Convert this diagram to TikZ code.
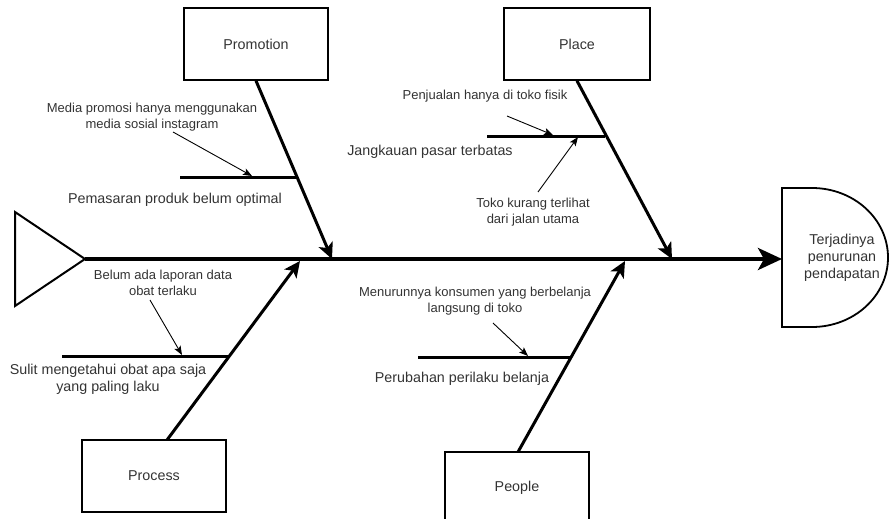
\documentclass[tikz,border=0pt]{standalone}
\usepackage{fontspec}
\setmainfont{Liberation Sans}
\usetikzlibrary{arrows.meta}
\definecolor{txt}{HTML}{333333}
\tikzset{
  catbox/.style={draw=black, line width=1.6pt, minimum width=144pt, minimum height=72pt, inner sep=0pt, font=\fontsize{14.3}{17}\selectfont, text=txt},
  lbl/.style={font=\fontsize{14.3}{17}\selectfont, text=txt, align=center, inner sep=0pt},
  note/.style={font=\fontsize{13}{15.5}\selectfont, text=txt, align=center, inner sep=0pt},
  spine/.style={line width=3.8pt, -{Stealth[length=24pt,width=22pt,inset=6pt]}},
  bone/.style={line width=3pt, -{Stealth[length=16pt,width=15pt,inset=4pt]}},
  subbone/.style={line width=3pt},
  pointer/.style={line width=0.9pt, -{Stealth[length=9pt,width=7pt,inset=2pt]}},
}
\begin{document}
\begin{tikzpicture}[x=1pt,y=-1pt]
\useasboundingbox (0,0) rectangle (889,519);
% head triangle
\coordinate (tailtip) at (85,259);
\draw[line width=2pt, line join=miter] (15,212) -- (tailtip) -- (15,306) -- cycle;
% result shape
\coordinate (resL) at (782,259);
\draw[line width=1.8pt] (782,188) -- (812,188) arc[start angle=-90, end angle=90, x radius=76, y radius=69.5] -- (782,327) -- cycle;
\node[lbl] (res) at (842,258) {Terjadinya\\penurunan\\pendapatan};
% spine
\draw[spine] (tailtip) -- (resL);
% category boxes
\node[catbox] (prom) at (256,44) {Promotion};
\node[catbox, minimum width=146pt] (place) at (577,44) {Place};
\node[catbox] (process) at (154,476) {Process};
\node[catbox] (people) at (517,488) {People};
% bone end points
\coordinate (promE) at (332,259);
\coordinate (placeE) at (672,259);
\coordinate (processS) at (167,440);
\coordinate (processE) at (300,261);
\coordinate (peopleS) at (518,452);
\coordinate (peopleE) at (625,261);
\draw[bone] (prom.south) -- (promE);
\draw[bone] (place.south) -- (placeE);
\draw[bone] (processS) -- (processE);
\draw[bone] (peopleS) -- (peopleE);
% sub bones
\coordinate (s1a) at (180,177); \coordinate (s1b) at (297,177);
\coordinate (s2a) at (487,136); \coordinate (s2b) at (605,136);
\coordinate (s3a) at (62,356);  \coordinate (s3b) at (229,356);
\coordinate (s4a) at (418,357); \coordinate (s4b) at (571,357);
\draw[subbone] (s1a) -- (s1b);
\draw[subbone] (s2a) -- (s2b);
\draw[subbone] (s3a) -- (s3b);
\draw[subbone] (s4a) -- (s4b);
% labels
\node[lbl] (l1) at (175,200) {Pemasaran produk belum optimal};
\node[lbl] (l2) at (430,152) {Jangkauan pasar terbatas};
\node[lbl] (l3) at (108,379) {Sulit mengetahui obat apa saja\\yang paling laku};
\node[lbl] (l4) at (462,379) {Perubahan perilaku belanja};
% notes
\node[note] (n1) at (152,117) {Media promosi hanya menggunakan\\media sosial instagram};
\node[note] (n2) at (485,96) {Penjualan hanya di toko fisik};
\node[note] (n3) at (533,212) {Toko kurang terlihat\\dari jalan utama};
\node[note] (n4) at (163,283) {Belum ada laporan data\\obat terlaku};
\node[note] (n5) at (475,301) {Menurunnya konsumen yang berbelanja\\langsung di toko};
% pointer arrows
\coordinate (p1a) at (173,132); \coordinate (p1b) at (252,176);
\coordinate (p2a) at (507,116); \coordinate (p2b) at (553,135);
\coordinate (p3a) at (538,192); \coordinate (p3b) at (578,137);
\coordinate (p4a) at (150,300); \coordinate (p4b) at (182,355);
\coordinate (p5a) at (493,323); \coordinate (p5b) at (528,356);
\draw[pointer] (p1a) -- (p1b);
\draw[pointer] (p2a) -- (p2b);
\draw[pointer] (p3a) -- (p3b);
\draw[pointer] (p4a) -- (p4b);
\draw[pointer] (p5a) -- (p5b);
\end{tikzpicture}
\end{document}
